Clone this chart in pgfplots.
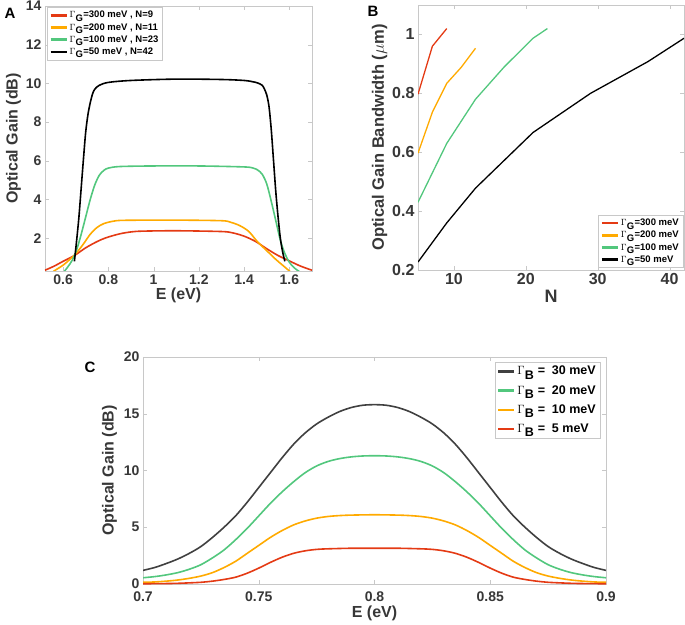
\documentclass[border=0pt]{standalone}
\usepackage[no-math]{fontspec}
\setmainfont{Liberation Sans}
\usepackage{pgfplots}
\pgfplotsset{compat=1.18}

\definecolor{cred}{RGB}{228,58,20}
\definecolor{corange}{RGB}{255,170,0}
\definecolor{cgreen}{RGB}{82,199,125}
\definecolor{cdark}{RGB}{64,64,64}
\definecolor{axgray}{RGB}{200,200,200}
\definecolor{tickgray}{RGB}{55,55,55}

\pgfplotsset{
  panel/.style={
    scale only axis, anchor=south west,
    axis line style={draw=axgray},
    tick style={draw=axgray},
    major tick length=4pt,
    tick align=inside,
    minor tick num=0,
    /pgf/number format/assume math mode=true,
    tick label style={font=\bfseries\fontsize{14}{14}\selectfont, text=tickgray},
    label style={font=\bfseries\fontsize{16}{16}\selectfont, text=tickgray},
    legend cell align=left,
  },
  leg/.style={legend image code/.code={\draw[#1, line width=2.4pt] (0pt,0pt) -- (16pt,0pt);}},
}

\begin{document}
\begin{tikzpicture}
\useasboundingbox (0,0) rectangle (685pt,624pt);

% ---------- A ----------
\begin{axis}[panel,
  at={(45pt,353pt)}, width=267pt, height=265pt,
  xmin=0.52, xmax=1.7, ymin=0.3, ymax=14,
  xtick={0.6,0.8,1,1.2,1.4,1.6},
  ytick={2,4,6,8,10,12,14},
  xlabel={E (eV)}, ylabel={Optical Gain (dB)},
  xlabel style={yshift=3pt},
  ylabel style={yshift=-2pt},
  legend style={at={(0.008,0.996)}, anchor=north west, draw=axgray,
    font=\bfseries\fontsize{9.5}{12}\selectfont, inner sep=2pt},
]
\addplot[cred, line width=1.6pt, smooth, leg] coordinates {
(0.52,0.34) (0.56,0.55) (0.60,0.8) (0.65,1.1) (0.70,1.5) (0.75,1.82) (0.79,2.02)
(0.85,2.22) (0.90,2.32) (0.95,2.36) (1.1,2.38) (1.3,2.34) (1.35,2.27) (1.40,2.1)
(1.45,1.83) (1.50,1.45) (1.55,1.1) (1.60,0.82) (1.65,0.55) (1.70,0.34)};
\addlegendentry{$\Gamma_{\textbf{G}}$=300 meV , N=9}
\addplot[corange, line width=1.6pt, smooth, leg] coordinates {
(0.55,0.2) (0.56,0.3) (0.60,0.6) (0.63,0.9) (0.66,1.25) (0.69,1.7) (0.72,2.2)
(0.75,2.55) (0.78,2.75) (0.82,2.87) (0.87,2.92) (1.1,2.93) (1.3,2.9) (1.34,2.82)
(1.38,2.65) (1.42,2.35) (1.46,1.8) (1.50,1.35) (1.54,0.9) (1.57,0.6) (1.60,0.3) (1.61,0.2)};
\addlegendentry{$\Gamma_{\textbf{G}}$=200 meV , N=11}
\addplot[cgreen, line width=1.6pt, smooth, leg] coordinates {
(0.60,0.2) (0.62,0.5) (0.64,0.85) (0.66,1.4) (0.68,2.2) (0.70,3.1) (0.72,4.0)
(0.74,4.75) (0.76,5.25) (0.78,5.5) (0.80,5.62) (0.85,5.7) (1.0,5.73) (1.2,5.73)
(1.4,5.68) (1.44,5.62) (1.46,5.52) (1.48,5.3) (1.50,4.8) (1.52,3.9) (1.54,2.9)
(1.56,1.9) (1.58,1.2) (1.60,0.75) (1.62,0.48) (1.64,0.3) (1.66,0.15)};
\addlegendentry{$\Gamma_{\textbf{G}}$=100 meV , N=23}
\addplot[black, line width=1.6pt, smooth, leg] coordinates {
(0.65,0.8) (0.66,1.9) (0.67,3.1) (0.68,4.6) (0.69,6.1) (0.70,7.5) (0.71,8.4)
(0.72,9.0) (0.73,9.45) (0.74,9.7) (0.76,9.9) (0.80,10.05) (0.90,10.15) (1.10,10.22)
(1.30,10.2) (1.40,10.15) (1.44,10.08) (1.46,10.02) (1.48,9.9) (1.49,9.7) (1.50,9.4)
(1.51,8.8) (1.52,7.6) (1.53,6.0) (1.54,4.4) (1.55,3.1) (1.56,2.0) (1.57,1.3) (1.58,0.8)};
\addlegendentry{$\Gamma_{\textbf{G}}$=50 meV , N=42}
\end{axis}

% ---------- B ----------
\begin{axis}[panel,
  at={(418pt,354pt)}, width=266pt, height=265pt,
  xmin=5, xmax=42, ymin=0.2, ymax=1.1,
  xtick={10,20,30,40},
  ytick={0.2,0.4,0.6,0.8,1},
  tick label style={font=\bfseries\fontsize{16}{16}\selectfont},
  xlabel={N}, ylabel={Optical Gain Bandwidth ($\mu$m)},
  xlabel style={font=\bfseries\fontsize{18}{18}\selectfont, yshift=2pt},
  ylabel style={font=\bfseries\fontsize{16.5}{16.5}\selectfont, yshift=-2pt},
  legend style={at={(0.996,0.008)}, anchor=south east, draw=axgray,
    font=\bfseries\fontsize{9.5}{12}\selectfont, inner sep=2pt},
]
\addplot[cred, line width=1.3pt, leg] coordinates {(5,0.797) (7,0.96) (9,1.02)};
\addlegendentry{$\Gamma_{\textbf{G}}$=300 meV}
\addplot[corange, line width=1.3pt, leg] coordinates {(5,0.597) (7,0.736) (9,0.834) (11,0.888) (13,0.953)};
\addlegendentry{$\Gamma_{\textbf{G}}$=200 meV}
\addplot[cgreen, line width=1.3pt, leg] coordinates {(5,0.43) (9,0.63) (13,0.78) (17,0.89) (21,0.987) (23,1.02)};
\addlegendentry{$\Gamma_{\textbf{G}}$=100 meV}
\addplot[black, line width=1.3pt, leg] coordinates {(5,0.227) (9,0.36) (13,0.478) (21,0.667) (29,0.80) (37,0.908) (42,0.987)};
\addlegendentry{$\Gamma_{\textbf{G}}$=50 meV}
\end{axis}

% ---------- C ----------
\begin{axis}[panel,
  at={(143pt,40pt)}, width=463pt, height=227pt,
  xmin=0.7, xmax=0.9, ymin=0, ymax=20,
  xtick={0.7,0.75,0.8,0.85,0.9},
  ytick={0,5,10,15,20},
  xticklabel style={/pgf/number format/precision=2, yshift=-4pt},
  xlabel={E (eV)}, ylabel={Optical Gain (dB)},
  xlabel style={yshift=2pt},
  legend style={at={(0.987,0.978)}, anchor=north east, draw=axgray,
    font=\bfseries\fontsize{12.5}{13}\selectfont, row sep=5pt, inner sep=2pt},
]
\addplot[cdark, line width=1.6pt, smooth, leg] coordinates {
(0.700,1.2) (0.705,1.45) (0.710,1.8) (0.715,2.2) (0.720,2.7) (0.725,3.3) (0.730,4.1)
(0.735,5.0) (0.740,6.0) (0.745,7.2) (0.750,8.5) (0.755,9.8) (0.760,11.1) (0.765,12.3)
(0.770,13.3) (0.775,14.1) (0.780,14.7) (0.785,15.2) (0.790,15.55) (0.795,15.75) (0.800,15.8)
(0.805,15.75) (0.810,15.55) (0.815,15.2) (0.820,14.7) (0.825,14.1) (0.830,13.3) (0.835,12.3)
(0.840,11.1) (0.845,9.8) (0.850,8.5) (0.855,7.2) (0.860,6.0) (0.865,5.0) (0.870,4.1)
(0.875,3.3) (0.880,2.7) (0.885,2.2) (0.890,1.8) (0.895,1.45) (0.900,1.2)};
\addlegendentry{$\Gamma_{\textbf{B}}$ =\ \ 30 meV}
\addplot[cgreen, line width=1.6pt, smooth, leg] coordinates {
(0.700,0.55) (0.705,0.65) (0.710,0.8) (0.715,1.0) (0.720,1.3) (0.725,1.7) (0.730,2.3)
(0.735,3.0) (0.740,3.9) (0.745,4.9) (0.750,6.0) (0.755,7.1) (0.760,8.1) (0.765,9.0)
(0.770,9.8) (0.775,10.4) (0.780,10.8) (0.785,11.05) (0.790,11.2) (0.795,11.28) (0.800,11.3)
(0.805,11.28) (0.810,11.2) (0.815,11.05) (0.820,10.8) (0.825,10.4) (0.830,9.8) (0.835,9.0)
(0.840,8.1) (0.845,7.1) (0.850,6.0) (0.855,4.9) (0.860,3.9) (0.865,3.0) (0.870,2.3)
(0.875,1.7) (0.880,1.3) (0.885,1.0) (0.890,0.8) (0.895,0.65) (0.900,0.55)};
\addlegendentry{$\Gamma_{\textbf{B}}$ =\ \ 20 meV}
\addplot[corange, line width=1.6pt, smooth, leg] coordinates {
(0.700,0.15) (0.705,0.18) (0.710,0.25) (0.715,0.35) (0.720,0.5) (0.725,0.7) (0.730,1.0)
(0.735,1.45) (0.740,2.0) (0.745,2.7) (0.750,3.4) (0.755,4.1) (0.760,4.7) (0.765,5.2)
(0.770,5.55) (0.775,5.8) (0.780,5.95) (0.785,6.03) (0.790,6.07) (0.800,6.1)
(0.810,6.07) (0.815,6.03) (0.820,5.95) (0.825,5.8) (0.830,5.55) (0.835,5.2)
(0.840,4.7) (0.845,4.1) (0.850,3.4) (0.855,2.7) (0.860,2.0) (0.865,1.45) (0.870,1.0)
(0.875,0.7) (0.880,0.5) (0.885,0.35) (0.890,0.25) (0.895,0.18) (0.900,0.15)};
\addlegendentry{$\Gamma_{\textbf{B}}$ =\ \ 10 meV}
\addplot[cred, line width=1.6pt, smooth, leg] coordinates {
(0.700,0.02) (0.710,0.04) (0.715,0.06) (0.720,0.1) (0.725,0.15) (0.730,0.25)
(0.735,0.4) (0.740,0.6) (0.745,0.95) (0.750,1.4) (0.755,1.9) (0.760,2.35) (0.765,2.7)
(0.770,2.92) (0.775,3.05) (0.780,3.1) (0.790,3.15) (0.800,3.15)
(0.810,3.15) (0.820,3.1) (0.825,3.05) (0.830,2.92) (0.835,2.7)
(0.840,2.35) (0.845,1.9) (0.850,1.4) (0.855,0.95) (0.860,0.6) (0.865,0.4) (0.870,0.25)
(0.875,0.15) (0.880,0.1) (0.885,0.06) (0.890,0.04) (0.900,0.02)};
\addlegendentry{$\Gamma_{\textbf{B}}$ =\ \ 5 meV}
\end{axis}

\node[font=\bfseries\fontsize{15}{15}\selectfont] at (10pt,611pt) {A};
\node[font=\bfseries\fontsize{15}{15}\selectfont] at (373pt,613pt) {B};
\node[font=\bfseries\fontsize{15}{15}\selectfont] at (90pt,257pt) {C};
\end{tikzpicture}
\end{document}
